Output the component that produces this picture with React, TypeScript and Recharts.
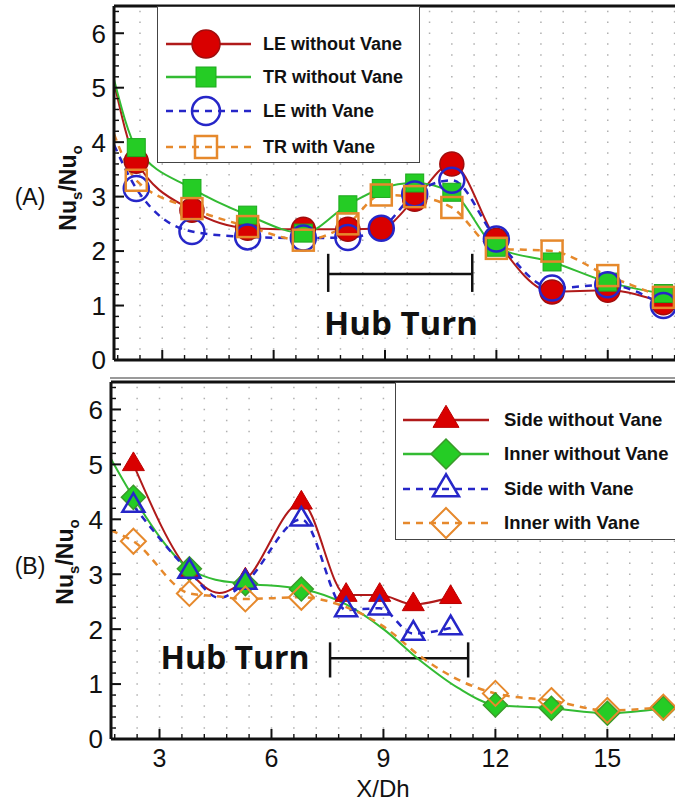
import React from 'react';
import { ComposedChart, Line, Scatter, XAxis, YAxis, CartesianGrid, ReferenceLine } from 'recharts';

// ---------------- Panel (A) data ----------------
const xStations = [2.3, 3.8, 5.3, 6.8, 8.0, 8.9, 9.8, 10.8, 12.0, 13.5, 15.0, 16.5];
const leWithoutVane = [3.65, 2.75, 2.42, 2.4, 2.4, 2.42, 2.95, 3.6, 2.2, 1.25, 1.28, 1.05];
const trWithoutVane = [3.9, 3.15, 2.66, 2.33, 2.85, 3.15, 3.25, 3.08, 2.07, 1.8, 1.43, 1.22];
const leWithVane = [3.15, 2.36, 2.26, 2.24, 2.25, 2.42, 3.05, 3.3, 2.22, 1.32, 1.38, 1.0];
const trWithVane = [3.3, 2.78, 2.45, 2.2, 2.5, 3.03, 3.0, 2.8, 2.05, 2.0, 1.55, 1.15];
// curve values at the left edge of the plot
const curveStartX = 1.7;
const curveStartA = [5.1, 5.15, 3.95, 4.15]; // LE w/o, TR w/o, LE with, TR with

// ---------------- Panel (B) data ----------------
const sideX = [2.3, 3.8, 5.3, 6.8, 8.0, 8.9, 9.8, 10.8];
const sideWithoutVane = [5.0, 3.05, 2.9, 4.3, 2.62, 2.62, 2.45, 2.58];
const sideWithVane = [4.25, 3.05, 2.85, 4.0, 2.35, 2.38, 1.92, 2.02];
const innerX = [2.3, 3.8, 5.3, 6.8, 12.0, 13.5, 15.0, 16.5];
const innerWithoutVane = [4.4, 3.1, 2.83, 2.73, 0.62, 0.56, 0.47, 0.56];
const innerWithVane = [3.6, 2.65, 2.55, 2.58, 0.83, 0.7, 0.52, 0.58];
// extra curve values read between markers
const sideDipX = [4.6];
const sideWithoutVaneDip = [2.66];
const sideWithVaneDip = [2.57];
const innerCurveX = [1.7, 4.5, 8.0, 9.0, 10.0, 11.0];
const innerWithoutVaneCurve = [5.1, 2.9, 2.45, 2.0, 1.42, 0.93];
const innerWithVaneCurve = [3.8, 2.6, 2.4, 2.05, 1.5, 1.08];

// ---------------- axes ----------------
const xDomain = [1.7, 17];
const yDomain = [0, 6.5];
const xMajorTicks = [3, 6, 9, 12, 15];
const xTicks = [1.8, 2.4, 3, 3.6, 4.2, 4.8, 5.4, 6, 6.6, 7.2, 7.8, 8.4, 9, 9.6, 10.2, 10.8, 11.4, 12, 12.6, 13.2, 13.8, 14.4, 15, 15.6, 16.2, 16.8];
const yMajorTicks = [0, 1, 2, 3, 4, 5, 6];
const yTicks = [0, 0.2, 0.4, 0.6, 0.8, 1, 1.2, 1.4, 1.6, 1.8, 2, 2.2, 2.4, 2.6, 2.8, 3, 3.2, 3.4, 3.6, 3.8, 4, 4.2, 4.4, 4.6, 4.8, 5, 5.2, 5.4, 5.6, 5.8, 6, 6.2, 6.4];

// Hub turn bracket
const hubTurnA = [7.47, 11.35];
const hubBarA = 1.58;
const hubCapA = [1.25, 1.95];
const hubTurnB = [7.57, 11.27];
const hubBarB = 1.47;
const hubCapB = [1.12, 1.76];

const legendA = ['LE without Vane', 'TR without Vane', 'LE with Vane', 'TR with Vane'];
const legendB = ['Side without Vane', 'Inner without Vane', 'Side with Vane', 'Inner with Vane'];

const pts = (xs: number[], ys: number[]) => xs.map((x, i) => ({ x, y: ys[i] }));
const merge = (...lists: { x: number; y: number }[][]) =>
  ([] as { x: number; y: number }[]).concat(...lists).sort((a, b) => a.x - b.x);

const RED = '#d90000';
const RED_LINE = '#b01a1a';
const GREEN = '#25cc25';
const GREEN_LINE = '#33bb33';
const BLUE = '#2626c8';
const ORANGE = '#e6892c';
const TICK_FONT = '"Liberation Sans", Arial, sans-serif';

// ---------------- markers ----------------
const RedCircle = ({ cx, cy, r }: any) => <circle cx={cx} cy={cy} r={r} fill={RED} stroke="#a00d0d" strokeWidth={1.5} />;
const BlueRing = ({ cx, cy, r }: any) => <circle cx={cx} cy={cy} r={r} fill="none" stroke={BLUE} strokeWidth={2.5} />;
const GreenSquare = ({ cx, cy, s }: any) => <rect x={cx - s / 2} y={cy - s / 2} width={s} height={s} fill={GREEN} stroke="#1ea81e" strokeWidth={1} />;
const OrangeSquare = ({ cx, cy, s }: any) => <rect x={cx - s / 2} y={cy - s / 2} width={s} height={s} fill="none" stroke={ORANGE} strokeWidth={2.5} />;
const triPts = (cx: number, cy: number, w: number) => {
  const h = w * 0.85;
  return `${cx},${cy - (2 * h) / 3} ${cx - w / 2},${cy + h / 3} ${cx + w / 2},${cy + h / 3}`;
};
const diaPts = (cx: number, cy: number, d: number) => `${cx},${cy - d / 2} ${cx + d / 2},${cy} ${cx},${cy + d / 2} ${cx - d / 2},${cy}`;
const RedTriangle = ({ cx, cy, w }: any) => <polygon points={triPts(cx, cy, w)} fill={RED} stroke="#b00" strokeWidth={1} />;
const BlueTriangle = ({ cx, cy, w }: any) => <polygon points={triPts(cx, cy, w)} fill="none" stroke={BLUE} strokeWidth={2.5} />;
const GreenDiamond = ({ cx, cy, d }: any) => <polygon points={diaPts(cx, cy, d)} fill={GREEN} stroke="#3a9a2a" strokeWidth={1.5} />;
const OrangeDiamond = ({ cx, cy, d }: any) => <polygon points={diaPts(cx, cy, d)} fill="none" stroke={ORANGE} strokeWidth={2} />;

// ---------------- ticks ----------------
const YTick = (props: any) => {
  const { x, y, payload } = props;
  const v = Number(payload.value);
  const major = yMajorTicks.includes(v);
  const ax = x + 8;
  return (
    <g>
      <line x1={ax} x2={ax + (major ? 10 : 5)} y1={y} y2={y} stroke="#111" strokeWidth={major ? 2 : 1.4} />
      {major && (
        <text x={x} y={y} dy="0.36em" textAnchor="end" fontSize={26} fontFamily={TICK_FONT} fill="#111">
          {v}
        </text>
      )}
    </g>
  );
};
const makeXTick = (showLabel: boolean) => (props: any) => {
  const { x, y, payload } = props;
  const v = Number(payload.value);
  const major = xMajorTicks.includes(v);
  const ay = y - 10;
  return (
    <g>
      <line x1={x} x2={x} y1={ay} y2={ay - (major ? 10 : 5)} stroke="#111" strokeWidth={major ? 2 : 1.4} />
      {showLabel && major && (
        <text x={x} y={y} dy="0.71em" textAnchor="middle" fontSize={25} fontFamily={TICK_FONT} fill="#111">
          {v}
        </text>
      )}
    </g>
  );
};
const XTickA = makeXTick(false);
const XTickB = makeXTick(true);

const axisLine = { stroke: '#111', strokeWidth: 3 };

// ---------------- legend ----------------
function LegendBox({ left, top, width, height, rows, items, fontSize, lineX, markerX, textLeft }: any) {
  return (
    <div style={{ position: 'absolute', left, top, width, height, border: '1.5px solid #444', background: '#fff', boxSizing: 'border-box' }}>
      <svg width={textLeft} height={height} style={{ position: 'absolute', left: 0, top: 0 }}>
        {items.map((it: any, i: number) => (
          <g key={i}>
            <line x1={lineX[0]} x2={lineX[1]} y1={rows[i]} y2={rows[i]} stroke={it.color} strokeWidth={it.width} strokeDasharray={it.dash} />
            {it.marker(markerX, rows[i])}
          </g>
        ))}
      </svg>
      {items.map((it: any, i: number) => (
        <div
          key={i}
          style={{ position: 'absolute', left: textLeft, top: rows[i], transform: 'translateY(-50%)', fontFamily: TICK_FONT, fontWeight: 700, fontSize, lineHeight: 1, whiteSpace: 'nowrap', color: '#111' }}
        >
          {it.label}
        </div>
      ))}
    </div>
  );
}

export default function App() {
  const leCurve = merge([{ x: curveStartX, y: curveStartA[0] }], pts(xStations, leWithoutVane));
  const trCurve = merge([{ x: curveStartX, y: curveStartA[1] }], pts(xStations, trWithoutVane));
  const leVCurve = merge([{ x: curveStartX, y: curveStartA[2] }], pts(xStations, leWithVane));
  const trVCurve = merge([{ x: curveStartX, y: curveStartA[3] }], pts(xStations, trWithVane));

  const sideCurve = merge(pts(sideX, sideWithoutVane), pts(sideDipX, sideWithoutVaneDip));
  const sideVCurve = merge(pts(sideX, sideWithVane), pts(sideDipX, sideWithVaneDip));
  const innerCurve = merge(pts(innerX, innerWithoutVane), pts(innerCurveX, innerWithoutVaneCurve));
  const innerVCurve = merge(pts(innerX, innerWithVane), pts(innerCurveX, innerWithVaneCurve));

  const legendItemsA = [
    { label: legendA[0], color: RED_LINE, width: 2.5, dash: undefined, marker: (x: number, y: number) => <RedCircle cx={x} cy={y} r={14} /> },
    { label: legendA[1], color: GREEN_LINE, width: 2.5, dash: undefined, marker: (x: number, y: number) => <GreenSquare cx={x} cy={y} s={20} /> },
    { label: legendA[2], color: BLUE, width: 2.5, dash: '7 6', marker: (x: number, y: number) => <BlueRing cx={x} cy={y} r={14} /> },
    { label: legendA[3], color: ORANGE, width: 2.5, dash: '7 6', marker: (x: number, y: number) => <OrangeSquare cx={x} cy={y} s={22} /> },
  ];
  const legendItemsB = [
    { label: legendB[0], color: RED_LINE, width: 2.5, dash: undefined, marker: (x: number, y: number) => <RedTriangle cx={x} cy={y} w={26} /> },
    { label: legendB[1], color: GREEN_LINE, width: 2.5, dash: undefined, marker: (x: number, y: number) => <GreenDiamond cx={x} cy={y} d={30} /> },
    { label: legendB[2], color: BLUE, width: 2.5, dash: '7 6', marker: (x: number, y: number) => <BlueTriangle cx={x} cy={y} w={26} /> },
    { label: legendB[3], color: ORANGE, width: 2.5, dash: '7 6', marker: (x: number, y: number) => <OrangeDiamond cx={x} cy={y} d={30} /> },
  ];

  const hubSeg = (a: number[], bar: number, cap: number[]) => [
    <ReferenceLine key="h" segment={[{ x: a[0], y: bar }, { x: a[1], y: bar }]} stroke="#111" strokeWidth={2.5} ifOverflow="visible" />,
    <ReferenceLine key="l" segment={[{ x: a[0], y: cap[0] }, { x: a[0], y: cap[1] }]} stroke="#111" strokeWidth={2.5} ifOverflow="visible" />,
    <ReferenceLine key="r" segment={[{ x: a[1], y: cap[0] }, { x: a[1], y: cap[1] }]} stroke="#111" strokeWidth={2.5} ifOverflow="visible" />,
  ];

  return (
    <div style={{ position: 'absolute', left: 0, top: 0, width: 675, height: 803, overflow: 'hidden', background: '#fff' }}>
      {/* Panel A */}
      <div style={{ position: 'absolute', left: 0, top: 0 }}>
        <ComposedChart width={700} height={380} margin={{ top: 6, right: 18, left: 54, bottom: 0 }}>
          <CartesianGrid horizontal={false} vertical stroke="#b0b0b0" strokeWidth={1.5} strokeDasharray="1.5 9.39" strokeDashoffset={-4.7} />
          <XAxis type="number" dataKey="x" domain={xDomain} ticks={xTicks} interval={0} allowDataOverflow height={20} tickSize={0} tickMargin={10} tickLine={false} tick={XTickA} axisLine={axisLine} />
          <YAxis type="number" dataKey="y" domain={yDomain} ticks={yTicks} interval={0} allowDataOverflow width={60} tickSize={0} tickMargin={8} tickLine={false} tick={YTick} axisLine={axisLine} />
          <ReferenceLine y={6.5} stroke="#111" strokeWidth={3} ifOverflow="visible" />
          {hubSeg(hubTurnA, hubBarA, hubCapA)}
          <Line data={leCurve} dataKey="y" type="monotone" stroke={RED_LINE} strokeWidth={2} dot={false} isAnimationActive={false} />
          <Line data={trCurve} dataKey="y" type="monotone" stroke={GREEN_LINE} strokeWidth={2} dot={false} isAnimationActive={false} />
          <Line data={leVCurve} dataKey="y" type="monotone" stroke={BLUE} strokeWidth={2.5} strokeDasharray="7 6" dot={false} isAnimationActive={false} />
          <Line data={trVCurve} dataKey="y" type="monotone" stroke={ORANGE} strokeWidth={2.5} strokeDasharray="7 6" dot={false} isAnimationActive={false} />
          <Scatter data={pts(xStations, leWithoutVane)} dataKey="y" isAnimationActive={false} shape={(p: any) => <RedCircle cx={p.cx} cy={p.cy} r={12} />} />
          <Scatter data={pts(xStations, trWithoutVane)} dataKey="y" isAnimationActive={false} shape={(p: any) => <GreenSquare cx={p.cx} cy={p.cy} s={18} />} />
          <Scatter data={pts(xStations, leWithVane)} dataKey="y" isAnimationActive={false} shape={(p: any) => <BlueRing cx={p.cx} cy={p.cy} r={12.5} />} />
          <Scatter data={pts(xStations, trWithVane)} dataKey="y" isAnimationActive={false} shape={(p: any) => <OrangeSquare cx={p.cx} cy={p.cy} s={21} />} />
        </ComposedChart>
      </div>
      <LegendBox left={157} top={6} width={263} height={157} rows={[37, 70, 104, 140]} items={legendItemsA} fontSize={18} lineX={[8, 93]} markerX={48} textLeft={105} />

      <div style={{ position: 'absolute', left: 110, top: 377, width: 565, height: 1.5, background: '#9a9a9a' }} />

      {/* Panel B */}
      <div style={{ position: 'absolute', left: 0, top: 370 }}>
        <ComposedChart width={700} height={433} margin={{ top: 12, right: 18, left: 51, bottom: 0 }}>
          <CartesianGrid horizontal={false} vertical stroke="#b0b0b0" strokeWidth={1.5} strokeDasharray="1.5 9.48" strokeDashoffset={-4.8} />
          <XAxis type="number" dataKey="x" domain={xDomain} ticks={xTicks} interval={0} allowDataOverflow height={64} tickSize={0} tickMargin={10} tickLine={false} tick={XTickB} axisLine={axisLine} />
          <YAxis type="number" dataKey="y" domain={yDomain} ticks={yTicks} interval={0} allowDataOverflow width={60} tickSize={0} tickMargin={8} tickLine={false} tick={YTick} axisLine={axisLine} />
          <ReferenceLine y={6.5} stroke="#111" strokeWidth={3} ifOverflow="visible" />
          {hubSeg(hubTurnB, hubBarB, hubCapB)}
          <Line data={sideCurve} dataKey="y" type="monotone" stroke={RED_LINE} strokeWidth={2} dot={false} isAnimationActive={false} />
          <Line data={innerCurve} dataKey="y" type="monotone" stroke={GREEN_LINE} strokeWidth={2} dot={false} isAnimationActive={false} />
          <Line data={sideVCurve} dataKey="y" type="monotone" stroke={BLUE} strokeWidth={2.5} strokeDasharray="7 6" dot={false} isAnimationActive={false} />
          <Line data={innerVCurve} dataKey="y" type="monotone" stroke={ORANGE} strokeWidth={2.5} strokeDasharray="7 6" dot={false} isAnimationActive={false} />
          <Scatter data={pts(sideX, sideWithoutVane)} dataKey="y" isAnimationActive={false} shape={(p: any) => <RedTriangle cx={p.cx} cy={p.cy} w={22} />} />
          <Scatter data={pts(innerX, innerWithoutVane)} dataKey="y" isAnimationActive={false} shape={(p: any) => <GreenDiamond cx={p.cx} cy={p.cy} d={24} />} />
          <Scatter data={pts(sideX, sideWithVane)} dataKey="y" isAnimationActive={false} shape={(p: any) => <BlueTriangle cx={p.cx} cy={p.cy} w={22} />} />
          <Scatter data={pts(innerX, innerWithVane)} dataKey="y" isAnimationActive={false} shape={(p: any) => <OrangeDiamond cx={p.cx} cy={p.cy} d={25} />} />
        </ComposedChart>
      </div>
      <LegendBox left={395} top={382} width={300} height={158} rows={[37, 71, 106, 140]} items={legendItemsB} fontSize={18.5} lineX={[7, 93]} markerX={50} textLeft={108} />

      {/* Annotations */}
      <div style={{ position: 'absolute', left: 401, top: 322, transform: 'translate(-50%, -50%)', fontFamily: '"Open Sans", sans-serif', fontWeight: 700, fontSize: 33, lineHeight: 1, whiteSpace: 'nowrap', color: '#111' }}>Hub Turn</div>
      <div style={{ position: 'absolute', left: 235, top: 657, transform: 'translate(-50%, -50%)', fontFamily: '"Open Sans", sans-serif', fontWeight: 700, fontSize: 32, lineHeight: 1, whiteSpace: 'nowrap', color: '#111' }}>Hub Turn</div>

      <svg width={675} height={803} style={{ position: 'absolute', left: 0, top: 0, pointerEvents: 'none' }}>
        <text x={30} y={197} dy="0.36em" textAnchor="middle" fontSize={23} fontFamily={TICK_FONT} fill="#111">(A)</text>
        <text x={30} y={566} dy="0.36em" textAnchor="middle" fontSize={23} fontFamily={TICK_FONT} fill="#111">(B)</text>
        <text x={68} y={188} dy="0.35em" textAnchor="middle" fontSize={23} fontWeight={700} fontFamily={TICK_FONT} fill="#111" transform="rotate(-90 68 188)">
          Nu<tspan dy={6} fontSize={15}>s</tspan><tspan dy={-6}>/Nu</tspan><tspan dy={6} fontSize={15}>o</tspan>
        </text>
        <text x={65} y={562} dy="0.35em" textAnchor="middle" fontSize={23} fontWeight={700} fontFamily={TICK_FONT} fill="#111" transform="rotate(-90 65 562)">
          Nu<tspan dy={6} fontSize={15}>s</tspan><tspan dy={-6}>/Nu</tspan><tspan dy={6} fontSize={15}>o</tspan>
        </text>
        <text x={383} y={788} dy="0.36em" textAnchor="middle" fontSize={24} fontFamily={TICK_FONT} fill="#111">X/Dh</text>
      </svg>
    </div>
  );
}
